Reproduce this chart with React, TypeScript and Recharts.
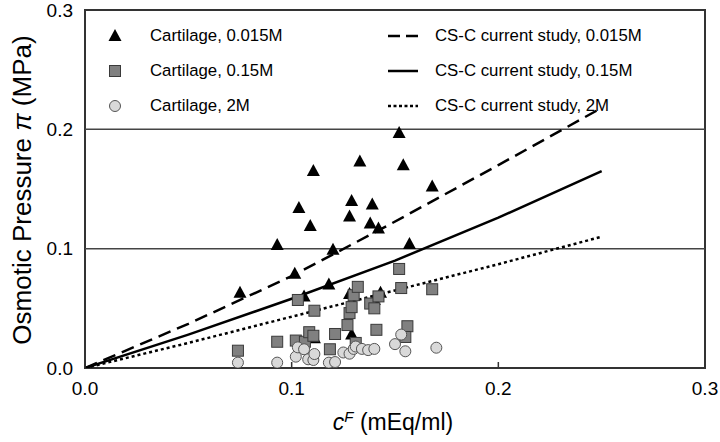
import React from 'react';
import { ComposedChart, XAxis, YAxis, Scatter, Line, ReferenceLine, ReferenceArea } from 'recharts';

// Cartilage, 0.015M (triangles)
const triX = [0.075, 0.093, 0.1015, 0.1035, 0.106, 0.109, 0.1105, 0.111, 0.118, 0.120, 0.128, 0.129, 0.133, 0.128, 0.129, 0.138, 0.139, 0.142, 0.140, 0.143, 0.152, 0.154, 0.157, 0.168];
const triY = [0.063, 0.103, 0.079, 0.134, 0.060, 0.119, 0.165, 0.025, 0.070, 0.099, 0.127, 0.140, 0.173, 0.062, 0.028, 0.121, 0.137, 0.117, 0.057, 0.063, 0.197, 0.170, 0.104, 0.152];

// Cartilage, 0.15M (squares)
const sqX = [0.074, 0.093, 0.102, 0.103, 0.1064, 0.1085, 0.1105, 0.111, 0.1185, 0.121, 0.127, 0.128, 0.129, 0.130, 0.132, 0.138, 0.140, 0.141, 0.142, 0.152, 0.153, 0.156, 0.155, 0.168, 0.131];
const sqY = [0.0145, 0.022, 0.023, 0.057, 0.022, 0.030, 0.027, 0.048, 0.0157, 0.0285, 0.036, 0.046, 0.051, 0.061, 0.068, 0.054, 0.050, 0.032, 0.060, 0.083, 0.067, 0.035, 0.026, 0.066, 0.021];

// Cartilage, 2M (circles)
const ciX = [0.074, 0.093, 0.102, 0.103, 0.106, 0.108, 0.1105, 0.111, 0.118, 0.121, 0.125, 0.128, 0.130, 0.131, 0.134, 0.137, 0.140, 0.150, 0.153, 0.155, 0.170];
const ciY = [0.0045, 0.0045, 0.0095, 0.0173, 0.0157, 0.0073, 0.0067, 0.0117, 0.0045, 0.005, 0.013, 0.012, 0.016, 0.018, 0.016, 0.015, 0.016, 0.020, 0.028, 0.014, 0.017];

// CS-C current study curves
const dashX = [0, 0.05, 0.1, 0.145, 0.2, 0.25];
const dashY = [0, 0.037, 0.077, 0.118, 0.17, 0.218];
const solidX = [0, 0.05, 0.1, 0.15, 0.2, 0.25];
const solidY = [0, 0.028, 0.058, 0.09, 0.126, 0.165];
const dotX = [0, 0.05, 0.1, 0.15, 0.2, 0.25];
const dotY = [0, 0.021, 0.043, 0.065, 0.087, 0.11];

const ticks = [0, 0.1, 0.2, 0.3];

const pts = (xs: number[], ys: number[]) => xs.map((x, i) => ({ x, y: ys[i] }));

const triData = pts(triX, triY);
const sqData = pts(sqX, sqY);
const ciData = pts(ciX, ciY);
const dashData = pts(dashX, dashY);
const solidData = pts(solidX, solidY);
const dotData = pts(dotX, dotY);

const FONT = '"Liberation Sans", Arial, sans-serif';

const Tri = (p: any) => {
  const { cx, cy } = p;
  return <polygon points={`${cx},${cy - 7} ${cx + 6.5},${cy + 5} ${cx - 6.5},${cy + 5}`} fill="#000" />;
};
const Sq = (p: any) => {
  const { cx, cy } = p;
  return <rect x={cx - 5.5} y={cy - 5.5} width={11} height={11} fill="#808080" stroke="#3a3a3a" strokeWidth={1} />;
};
const Ci = (p: any) => {
  const { cx, cy } = p;
  return <circle cx={cx} cy={cy} r={5.5} fill="#d9d9d9" stroke="#555" strokeWidth={1} />;
};

const legendLeft = [
  { label: 'Cartilage, 0.015M', kind: 'tri' },
  { label: 'Cartilage, 0.15M', kind: 'sq' },
  { label: 'Cartilage, 2M', kind: 'ci' },
];
const legendRight = [
  { label: 'CS-C current study, 0.015M', dash: '12 6' },
  { label: 'CS-C current study, 0.15M', dash: '' },
  { label: 'CS-C current study, 2M', dash: '3 2.5' },
];
const rowY = [36, 71, 106];

export default function App() {
  return (
    <div style={{ position: 'absolute', left: 0, top: 0, width: 720, height: 442, background: '#fff', fontFamily: FONT }}>
      <ComposedChart width={720} height={442} margin={{ top: 10, right: 15, bottom: 34, left: 25 }}>
        <XAxis
          type="number"
          dataKey="x"
          domain={[0, 0.3]}
          ticks={ticks}
          interval={0}
          allowDataOverflow
          tickFormatter={(v: number) => v.toFixed(1)}
          axisLine={false}
          tickSize={-6}
          tickMargin={20}
          tickLine={{ stroke: '#333', strokeWidth: 1.5 }}
          height={40}
          tick={{ fontSize: 19, fill: '#000', fontFamily: FONT }}
        />
        <YAxis
          type="number"
          dataKey="y"
          domain={[0, 0.3]}
          ticks={ticks}
          interval={0}
          allowDataOverflow
          tickFormatter={(v: number) => v.toFixed(1)}
          axisLine={false}
          tickLine={false}
          tickSize={0}
          tickMargin={12}
          width={60}
          tick={{ fontSize: 19, fill: '#000', fontFamily: FONT }}
        />
        <ReferenceLine y={0.1} stroke="#444" strokeWidth={1.5} />
        <ReferenceLine y={0.2} stroke="#444" strokeWidth={1.5} />
        <Line data={dashData} dataKey="y" type="linear" stroke="#000" strokeWidth={2.5} strokeDasharray="13 7" dot={false} isAnimationActive={false} />
        <Line data={solidData} dataKey="y" type="linear" stroke="#000" strokeWidth={2.5} dot={false} isAnimationActive={false} />
        <Line data={dotData} dataKey="y" type="linear" stroke="#000" strokeWidth={2.5} strokeDasharray="3 3" dot={false} isAnimationActive={false} />
        <Scatter data={triData} dataKey="y" shape={Tri} isAnimationActive={false} />
        <Scatter data={sqData} dataKey="y" shape={Sq} isAnimationActive={false} />
        <Scatter data={ciData} dataKey="y" shape={Ci} isAnimationActive={false} />
        <ReferenceArea x1={0} x2={0.3} y1={0} y2={0.3} fill="none" fillOpacity={0} stroke="#333" strokeWidth={2} />
      </ComposedChart>

      {legendLeft.map((l, i) => (
        <div key={l.label} style={{ position: 'absolute', left: 105, top: rowY[i] - 12, height: 24, display: 'flex', alignItems: 'center' }}>
          <svg width={20} height={20} style={{ marginRight: 25 }}>
            {l.kind === 'tri' && <polygon points="10,3 16.5,15 3.5,15" fill="#000" />}
            {l.kind === 'sq' && <rect x={4.5} y={4.5} width={11} height={11} fill="#808080" stroke="#3a3a3a" strokeWidth={1} />}
            {l.kind === 'ci' && <circle cx={10} cy={10} r={5.5} fill="#d9d9d9" stroke="#555" strokeWidth={1} />}
          </svg>
          <span style={{ fontSize: 16.8, color: '#000', whiteSpace: 'nowrap' }}>{l.label}</span>
        </div>
      ))}
      {legendRight.map((l, i) => (
        <div key={l.label} style={{ position: 'absolute', left: 386, top: rowY[i] - 12, height: 24, display: 'flex', alignItems: 'center' }}>
          <svg width={34} height={20} style={{ marginRight: 15 }}>
            <line x1={2} y1={10} x2={32} y2={10} stroke="#000" strokeWidth={2.5} strokeDasharray={l.dash || undefined} />
          </svg>
          <span style={{ fontSize: 16.8, color: '#000', whiteSpace: 'nowrap' }}>{l.label}</span>
        </div>
      ))}

      <div style={{ position: 'absolute', left: 393, top: 422, transform: 'translate(-50%, -50%)', fontSize: 23, whiteSpace: 'nowrap', color: '#000' }}>
        <i>c</i><sup style={{ fontSize: 15, fontStyle: 'italic' }}>F</sup> (mEq/ml)
      </div>
      <div style={{ position: 'absolute', left: 22, top: 190, transform: 'translate(-50%, -50%) rotate(-90deg)', fontSize: 26, whiteSpace: 'nowrap', color: '#000' }}>
        Osmotic Pressure <i>π</i> (MPa)
      </div>
    </div>
  );
}
